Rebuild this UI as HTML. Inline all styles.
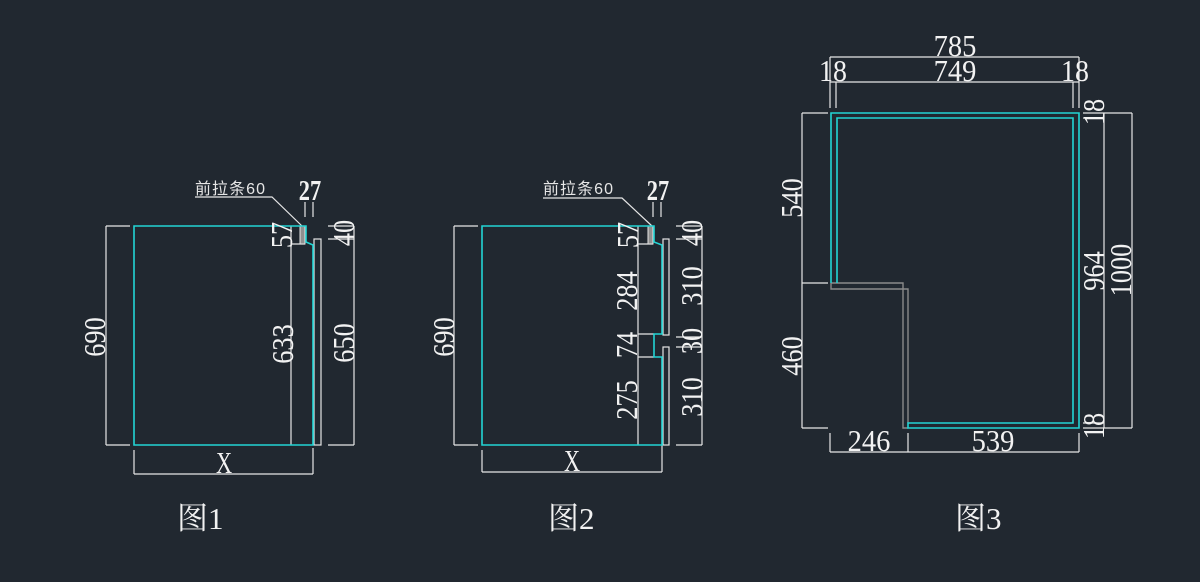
<!DOCTYPE html>
<html><head><meta charset="utf-8">
<style>
html,body{margin:0;padding:0;background:#212830;}
svg{display:block;}
.w{stroke:#e6e6e6;stroke-width:1.2;fill:none;}
.c{stroke:#22d4d4;stroke-width:1.6;fill:none;}
.g{stroke:#8a8a8a;stroke-width:1.4;fill:none;}
text{fill:#f2f2f2;font-family:"Liberation Serif","Noto Serif CJK SC",serif;}
.d{font-size:31px;}
.d3{font-size:31px;}
.lb{font-family:"Liberation Sans","Noto Sans CJK SC",sans-serif;font-size:16px;fill:#e6e6e6;}
.fig{font-family:"Liberation Serif","Noto Serif CJK SC",serif;font-size:31px;}
</style></head>
<body>
<svg width="1200" height="582" viewBox="0 0 1200 582" xmlns="http://www.w3.org/2000/svg">
<rect width="1200" height="582" fill="#212830"/>

<!-- ===== FIGURE 1 ===== -->
<g>
  <path class="w" d="M106 226V445M106 226H130M106 445H130"/>
  <path class="w" d="M291 226V445M291 244H305"/>
  <rect x="300" y="226" width="5" height="18" fill="#8f8f8f" stroke="#e4e4e4" stroke-width="1"/>
  <rect x="314" y="239" width="7" height="206" class="w"/>
  <path class="w" d="M354 226V445M328 226H354M328 239H354M328 445H354"/>
  <path class="w" d="M305 202V217M313 202V217"/>
  <path class="w" d="M195 197H272L302 226" stroke-width="1"/>
  <path class="w" d="M134 474H313M134 450V474M313 448V474"/>
  <path class="c" d="M134 226H306V242L313 245V445H134Z"/>
  <text class="lb" x="195" y="194" textLength="70">前拉条60</text>
  <text x="310" y="200" text-anchor="middle" font-size="28" font-weight="bold" transform="translate(310 0) scale(0.8 1) translate(-310 0)">27</text>
  <text class="d" transform="translate(105 337) rotate(-90) scale(0.85 1)" text-anchor="middle">690</text>
  <text class="d" transform="translate(292 235) rotate(-90) scale(0.85 1)" text-anchor="middle">57</text>
  <text class="d" transform="translate(293 344) rotate(-90) scale(0.85 1)" text-anchor="middle">633</text>
  <text class="d" transform="translate(354 233) rotate(-90) scale(0.85 1)" text-anchor="middle">40</text>
  <text class="d" transform="translate(354 343) rotate(-90) scale(0.85 1)" text-anchor="middle">650</text>
  <text x="224" y="473" font-size="31" text-anchor="middle" transform="translate(224 0) scale(0.72 1) translate(-224 0)">X</text>
  <text class="fig" x="177" y="529">图1</text>
</g>

<!-- ===== FIGURE 2 ===== -->
<g>
  <path class="w" d="M454 226V445M454 226H478M454 445H478"/>
  <path class="w" d="M638 226V445M638 244H653M638 334H654M638 357H654"/>
  <rect x="648" y="226" width="5" height="18" fill="#8f8f8f" stroke="#e4e4e4" stroke-width="1"/>
  <rect x="663" y="239" width="6" height="96" class="w"/>
  <rect x="663" y="347" width="6" height="98" class="w"/>
  <path class="w" d="M702 226V445M676 226H702M676 239H702M676 337H702M676 347H702M676 445H702"/>
  <path class="w" d="M653 202V217M661 202V217"/>
  <path class="w" d="M543 198H622L652 226" stroke-width="1"/>
  <path class="w" d="M482 472H662M482 450V472M662 445V472"/>
  <path class="c" d="M482 226H654V242L662 245V334H654V357H662V445H482Z"/>
  <text class="lb" x="543" y="194" textLength="70">前拉条60</text>
  <text x="658" y="200" text-anchor="middle" font-size="28" font-weight="bold" transform="translate(658 0) scale(0.8 1) translate(-658 0)">27</text>
  <text class="d" transform="translate(454 337) rotate(-90) scale(0.85 1)" text-anchor="middle">690</text>
  <text class="d" transform="translate(638 235) rotate(-90) scale(0.85 1)" text-anchor="middle">57</text>
  <text class="d" transform="translate(637 291) rotate(-90) scale(0.85 1)" text-anchor="middle">284</text>
  <text class="d" transform="translate(637 345) rotate(-90) scale(0.85 1)" text-anchor="middle">74</text>
  <text class="d" transform="translate(637 400) rotate(-90) scale(0.85 1)" text-anchor="middle">275</text>
  <text class="d" transform="translate(702 233) rotate(-90) scale(0.85 1)" text-anchor="middle">40</text>
  <text class="d" transform="translate(702 286) rotate(-90) scale(0.85 1)" text-anchor="middle">310</text>
  <text class="d" transform="translate(702 341) rotate(-90) scale(0.85 1)" text-anchor="middle">30</text>
  <text class="d" transform="translate(702 397) rotate(-90) scale(0.85 1)" text-anchor="middle">310</text>
  <text x="572" y="471" font-size="31" text-anchor="middle" transform="translate(572 0) scale(0.72 1) translate(-572 0)">X</text>
  <text class="fig" x="548" y="529">图2</text>
</g>

<!-- ===== FIGURE 3 ===== -->
<g>
  <path class="w" d="M830 57H1079M830 57V108M1079 57V108"/>
  <path class="w" d="M830 82H1079M836 82V108M1073 82V108"/>
  <path class="w" d="M802 113V428M802 113H828M802 283H828M802 428H828"/>
  <path class="w" d="M830 452H1079M830 433V452M908 433V452M1079 433V452"/>
  <path class="w" d="M1104 113V428M1132 113V428M1083 113H1132M1083 428H1132M1083 118H1104M1083 423H1104"/>
  <path class="g" d="M831 283H903V428H908M831 283V289H908V423"/>
  <path class="c" d="M831 283V113H1079V428H908V423H1073V118H837V283"/>

  <text class="d3" x="955" y="56" text-anchor="middle" transform="translate(955 0) scale(0.92 1) translate(-955 0)">785</text>
  <text class="d3" x="833" y="81" text-anchor="middle" transform="translate(833 0) scale(0.9 1) translate(-833 0)">18</text>
  <text class="d3" x="955" y="81" text-anchor="middle" transform="translate(955 0) scale(0.92 1) translate(-955 0)">749</text>
  <text class="d3" x="1075" y="81" text-anchor="middle" transform="translate(1075 0) scale(0.9 1) translate(-1075 0)">18</text>
  <text class="d3" x="869" y="451" text-anchor="middle" transform="translate(869 0) scale(0.92 1) translate(-869 0)">246</text>
  <text class="d3" x="993" y="451" text-anchor="middle" transform="translate(993 0) scale(0.92 1) translate(-993 0)">539</text>
  <text class="d" transform="translate(802 198) rotate(-90) scale(0.85 1)" text-anchor="middle">540</text>
  <text class="d" transform="translate(802 356) rotate(-90) scale(0.85 1)" text-anchor="middle">460</text>
  <text class="d" transform="translate(1104 271) rotate(-90) scale(0.85 1)" text-anchor="middle">964</text>
  <text class="d" transform="translate(1131 270) rotate(-90) scale(0.85 1)" text-anchor="middle">1000</text>
  <text class="d" transform="translate(1104 112) rotate(-90) scale(0.85 1)" text-anchor="middle">18</text>
  <text class="d" transform="translate(1104 426) rotate(-90) scale(0.85 1)" text-anchor="middle">18</text>
  <text class="fig" x="955" y="529">图3</text>
</g>
</svg>
</body></html>
